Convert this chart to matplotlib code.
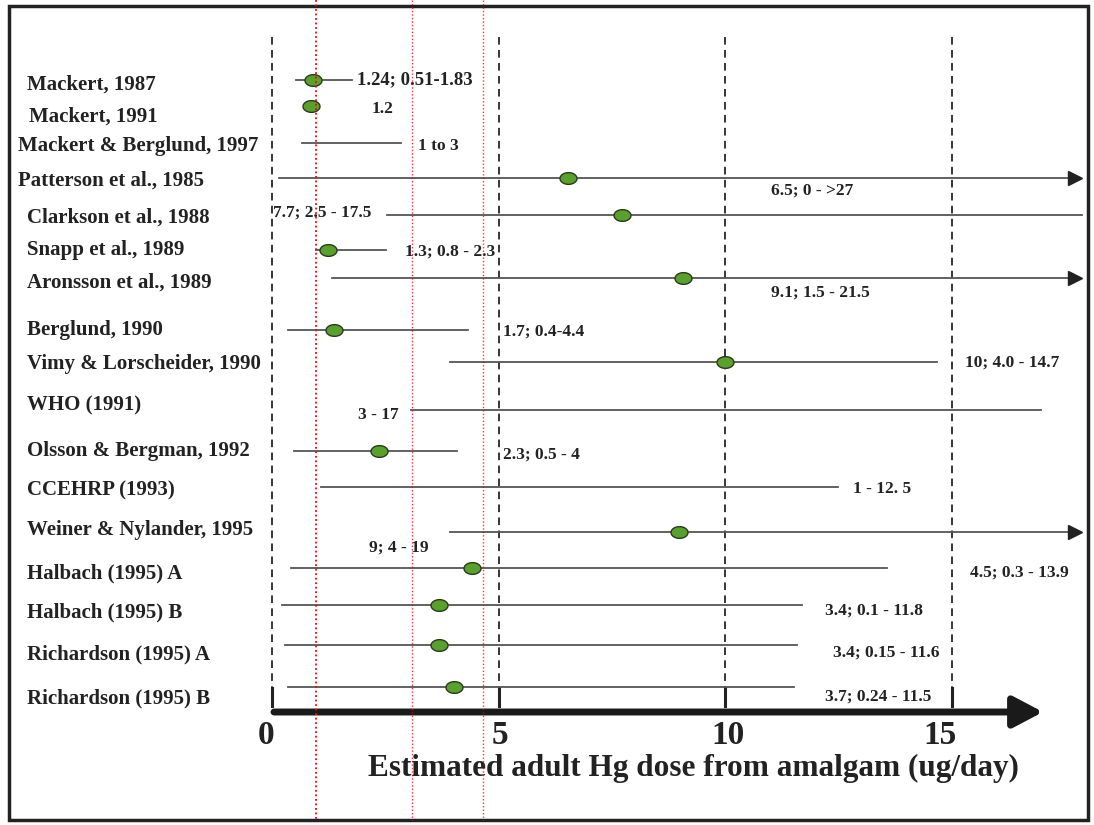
import numpy as np
import matplotlib
matplotlib.use("Agg")
import matplotlib.pyplot as plt
from matplotlib.patches import Rectangle, FancyArrowPatch
from matplotlib.path import Path

plt.rcParams["font.family"] = ["Liberation Serif", "DejaVu Serif"]

# --- data (dose in ug/day, as drawn) ---------------------------------------
studies = [
    "Mackert, 1987", "Mackert, 1991", "Mackert & Berglund, 1997",
    "Patterson et al., 1985", "Clarkson et al., 1988", "Snapp et al., 1989",
    "Aronsson et al., 1989", "Berglund, 1990", "Vimy & Lorscheider, 1990",
    "WHO (1991)", "Olsson & Bergman, 1992", "CCEHRP (1993)",
    "Weiner & Nylander, 1995", "Halbach (1995) A", "Halbach (1995) B",
    "Richardson (1995) A", "Richardson (1995) B",
]
centre = [0.91, 0.86, None, 6.53, 7.73, 1.24, 9.07, 1.37, 10.0,
          None, 2.36, None, 8.98, 4.42, 3.69, 3.69, 4.02]
low = [0.53, None, 0.66, 0.15, 2.54, 0.97, 1.32, 0.35, 3.93,
       3.07, 0.49, 1.08, 3.93, 0.42, 0.22, 0.29, 0.35]
high = [1.77, None, 2.85, 17.84, 17.88, 2.52, 17.84, 4.33, 14.68,
        16.98, 4.08, 12.49, 17.84, 13.58, 11.70, 11.59, 11.52]
open_ended = [False, False, False, True, False, False, True, False, False,
              False, False, False, True, False, False, False, False]
value_text = [
    "1.24; 0.51-1.83", "1.2", "1 to 3", "6.5; 0 - >27", "7.7; 2.5 - 17.5",
    "1.3; 0.8 - 2.3", "9.1; 1.5 - 21.5", "1.7; 0.4-4.4", "10; 4.0 - 14.7",
    "3 - 17", "2.3; 0.5 - 4", "1 - 12. 5", "9; 4 - 19", "4.5; 0.3 - 13.9",
    "3.4; 0.1 - 11.8", "3.4; 0.15 - 11.6", "3.7; 0.24 - 11.5",
]
thresholds = [0.97, 3.08, 4.66]
ticks = [0, 5, 10, 15]

# --- layout (pixels) --------------------------------------------------------
W, H = 1094, 825
X0, PX = 272, 45.3
row_y = [80, 106, 143, 178, 215, 250, 278, 330, 362, 410, 451, 487, 532,
         568, 605, 645, 687]
name_x = [27, 29, 18, 18, 27, 27, 27, 27, 27, 27, 27, 27, 27, 27, 27, 27, 27]
name_y = [85, 117, 146, 181, 218, 250, 283, 330, 364, 405, 451, 490, 530,
          573, 612, 654, 698]
val_x = [357, 372, 418, 771, 273, 405, 771, 503, 965, 358, 503, 853, 369,
         970, 825, 833, 825]
val_y = [80, 109, 146, 191, 213, 252, 293, 332, 363, 415, 455, 489, 548,
         573, 611, 653, 697]
val_size = [13.5, 12.5, 12.5, 12.5, 12.5, 12.5, 12.5, 12.5, 12.5,
            12.5, 12.5, 12.5, 12.5, 12.5, 12.5, 12.5, 12.5]
AXIS_Y = 712


def px2x(p):
    return (p - X0) / PX


fig = plt.figure(figsize=(W / 100, H / 100), dpi=100)
ax = fig.add_axes([0, 0, 1, 1])
ax.set_xlim(px2x(0), px2x(W))
ax.set_ylim(H, 0)
ax.axis("off")

# border
ax.add_patch(Rectangle((px2x(9), 6), 1079 / PX, 814, fill=False,
                       ec="#222222", lw=2.5, zorder=1))

# dashed reference lines and small ticks at the axis
for t in ticks:
    ax.plot([t, t], [37, 704], ls=(0, (5, 3.5)), color="black", lw=1.1, zorder=2)
    ax.plot([t, t], [688, 706], color="#222222", lw=2.2, zorder=2)

# red dotted threshold lines across the whole figure
for i, t in enumerate(thresholds):
    ax.plot([t, t], [0, 820], ls=(0, (1, 1.5)), color="red",
            lw=1.3 if i == 0 else 1.0, alpha=1.0 if i == 0 else 0.8, zorder=6)

# ellipse marker
th = np.linspace(0, 2 * np.pi, 40)
ell = Path(np.column_stack([1.45 * np.cos(th), np.sin(th)]), closed=True)

for i, name in enumerate(studies):
    y = row_y[i]
    if low[i] is not None:
        end = high[i] - (0.25 if open_ended[i] else 0)
        ax.plot([low[i], end], [y, y], color="#555555", lw=1.3, zorder=3)
        if open_ended[i]:
            ax.plot(high[i] - 0.12, y, marker=">", ms=10, color="#222222",
                    mec="#222222", zorder=4)
    if centre[i] is not None:
        ax.scatter([centre[i]], [y], marker=ell, s=150, color="#5aa02c",
                   edgecolors="#2b3a1c", linewidths=1.0, zorder=5)
    ax.text(px2x(name_x[i]), name_y[i], name, ha="left", va="center",
            fontsize=15, fontweight="bold", color="#222222")
    ax.text(px2x(val_x[i]), val_y[i], value_text[i], ha="left", va="center",
            fontsize=val_size[i], fontweight="bold", color="#222222")

# main axis arrow
ax.add_patch(FancyArrowPatch((px2x(274), AXIS_Y), (px2x(1043), AXIS_Y),
                             arrowstyle="-|>,head_length=1.8,head_width=0.95",
                             mutation_scale=10, lw=5, color="#1a1a1a",
                             shrinkA=0, shrinkB=0, zorder=4))
for t, xp in zip(ticks, [266, 500, 728, 940]):
    ax.text(px2x(xp), 736, str(t), ha="center", va="center", fontsize=24,
            fontweight="bold", color="#222222")
ax.text(px2x(693), 768, "Estimated adult Hg dose from amalgam (ug/day)",
        ha="center", va="center", fontsize=22.5, fontweight="bold",
        color="#222222")

fig.savefig("out.png", dpi=100)
